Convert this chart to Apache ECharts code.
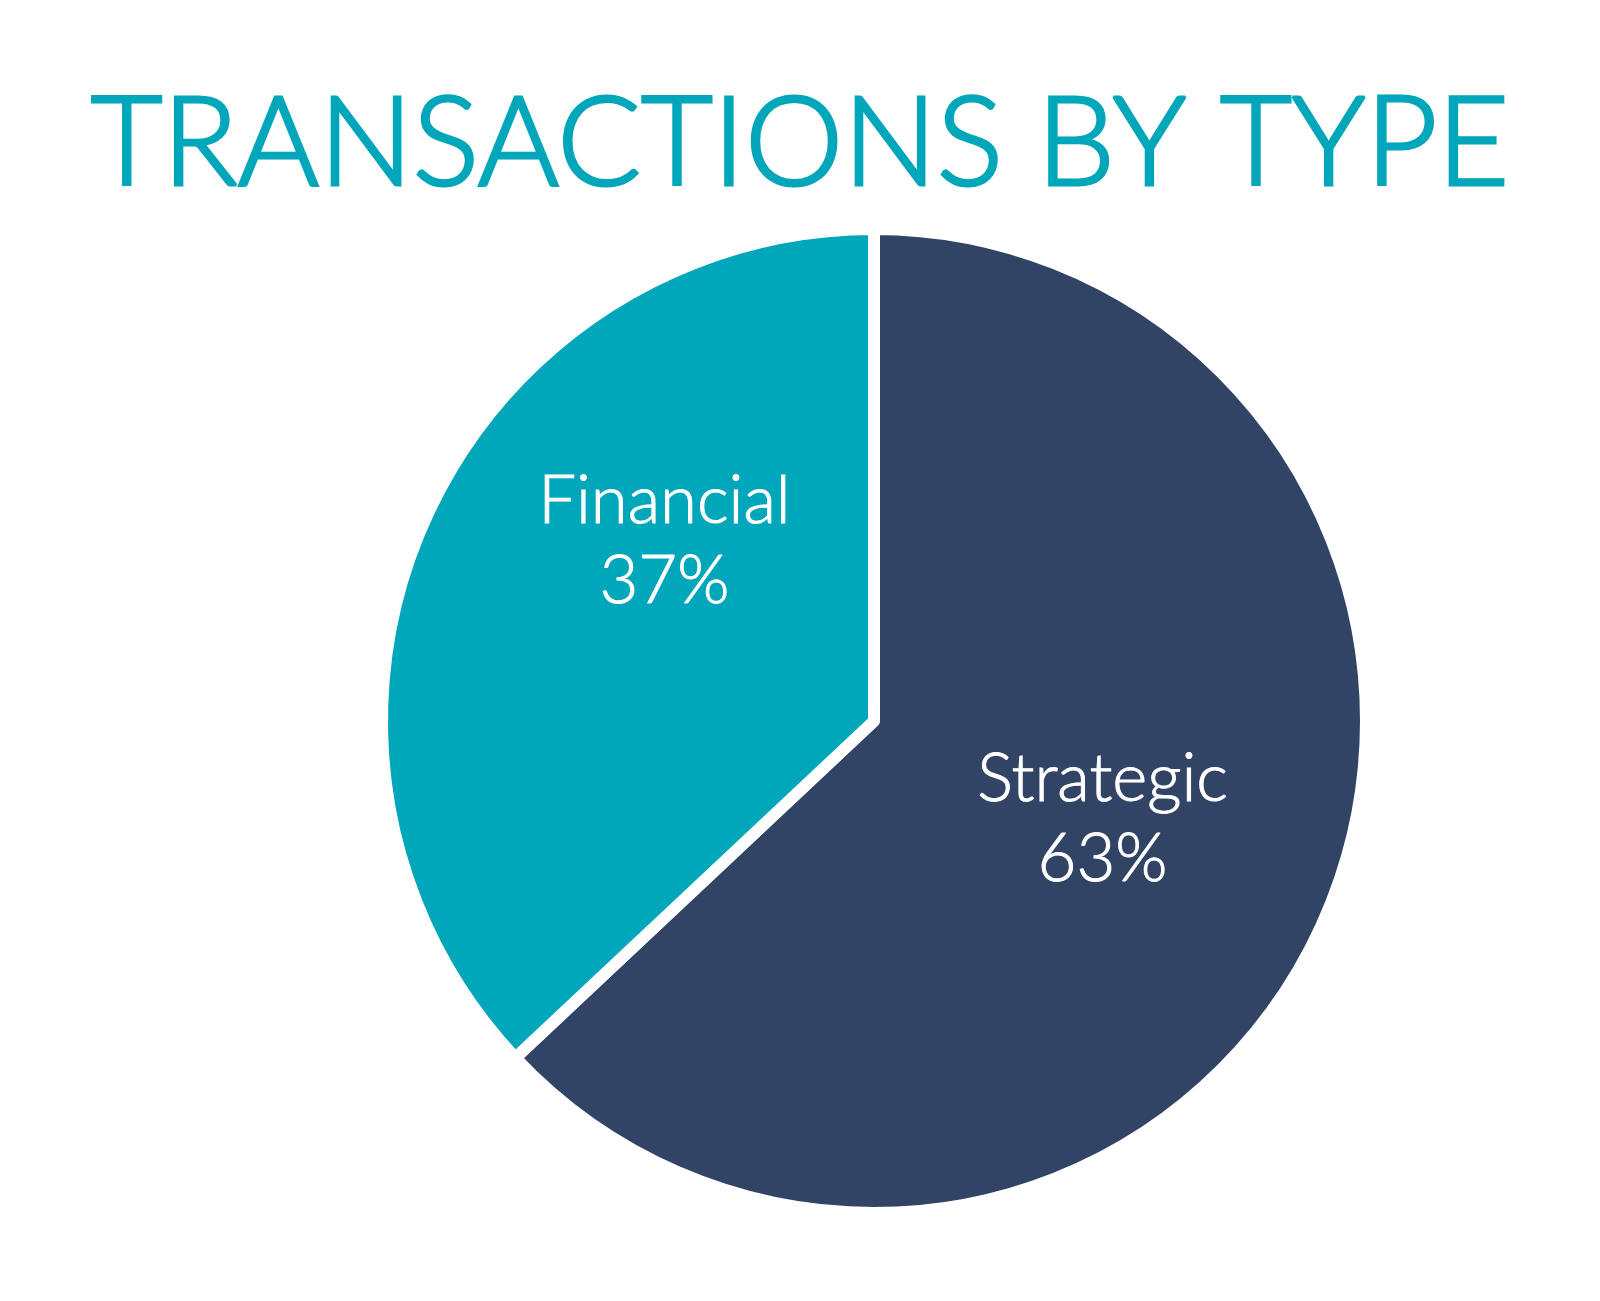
<!DOCTYPE html>
<html>
<head>
<meta charset="utf-8">
<script src="https://cdn.jsdelivr.net/npm/echarts@6/dist/echarts.min.js"></script>
<style>
  html, body { margin: 0; padding: 0; background: #fff; }
  #chart { width: 1600px; height: 1301px; }
</style>
</head>
<body>
<div id="chart"></div>
<script>
// data
var categories = ['Strategic', 'Financial'];
var shares = [63, 37];
var sliceColors = ['#324466', '#00a6b9'];

var chart = echarts.init(document.getElementById('chart'));

var pieData = categories.map(function (name, i) {
  return { name: name, value: shares[i], itemStyle: { color: sliceColors[i] } };
});

chart.setOption({
  backgroundColor: '#ffffff',
  animation: false,
  title: {
    text: 'TRANSACTIONS BY TYPE',
    left: 'center',
    top: 78,
    textStyle: {
      color: '#00a6b9',
      fontFamily: 'Lato',
      fontWeight: 300,
      fontSize: 124,
      // light face is a bit too thin, thicken it slightly
      textBorderColor: '#00a6b9',
      textBorderWidth: 3
    }
  },
  series: [
    {
      type: 'pie',
      center: [874, 721],
      radius: [0, 492],
      startAngle: 90,
      clockwise: true,
      percentPrecision: 0,
      itemStyle: {
        borderColor: '#ffffff',
        borderWidth: 12
      },
      label: {
        show: true,
        position: 'inside',
        formatter: '{b}\n{d}%',
        color: '#ffffff',
        fontFamily: 'Lato',
        fontWeight: 300,
        fontSize: 67,
        lineHeight: 80,
        textBorderColor: '#ffffff',
        textBorderWidth: 1
      },
      labelLine: { show: false },
      // the Financial label sits a little higher than the slice middle
      labelLayout: function (params) {
        if (params.dataIndex === 1) {
          return { dx: 19, dy: -81 };
        }
      },
      data: pieData
    }
  ]
});
</script>
</body>
</html>
